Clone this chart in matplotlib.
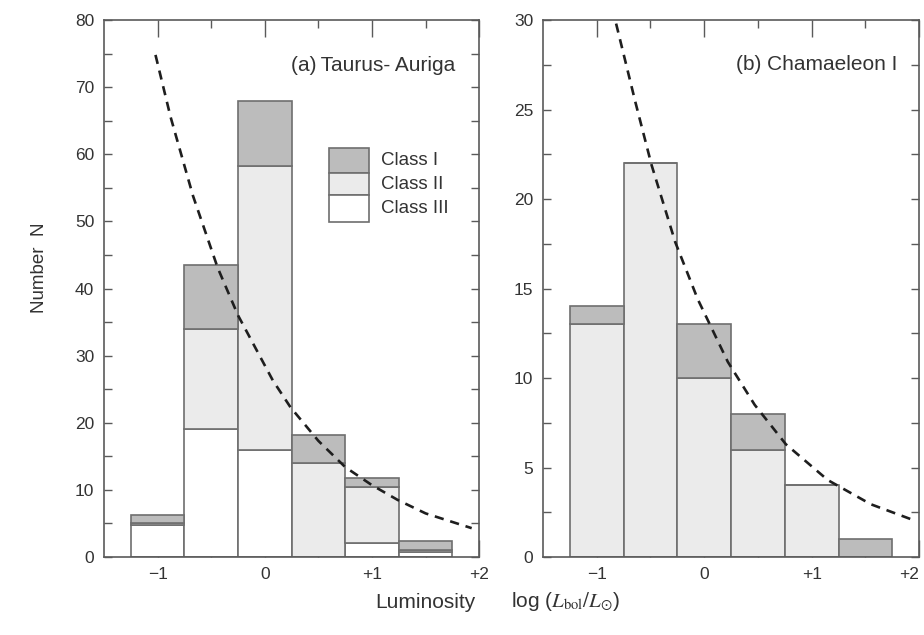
import matplotlib
matplotlib.use('Agg')
import matplotlib.pyplot as plt
from matplotlib.ticker import MultipleLocator, FixedLocator
from matplotlib.patches import Rectangle

plt.rcParams['font.family'] = ['Liberation Sans', 'DejaVu Sans']
plt.rcParams['mathtext.fontset'] = 'stix'

# bin centres, log(Lbol/Lsun), width 0.5
centers = [-1.0, -0.5, 0.0, 0.5, 1.0, 1.5]
xtick_labels = ['\u22121', '0', '+1', '+2']

# (a) Taurus-Auriga, stacked counts
taurus_III = [4.7, 19.0, 16.0, 0.0, 2.1, 0.8]
taurus_II = [0.4, 15.0, 42.3, 14.0, 8.4, 0.3]
taurus_I = [1.2, 9.5, 9.7, 4.2, 1.3, 1.3]

# (b) Chamaeleon I
cham_III = [0, 0, 0, 0, 0, 0]
cham_II = [13, 22, 10, 6, 4, 0]
cham_I = [1, 0, 3, 2, 0, 1]

# dashed reference curves
taurus_curve_x = [-1.02, -0.88, -0.67, -0.44, -0.25, 0.075, 0.24, 0.50, 0.75, 1.0, 1.24, 1.50, 1.93]
taurus_curve_y = [74.8, 65.6, 53.8, 43.1, 36.0, 26.3, 22.3, 17.3, 13.4, 10.7, 8.5, 6.5, 4.3]
cham_curve_x = [-0.82, -0.64, -0.49, -0.27, -0.06, 0.22, 0.47, 0.76, 1.15, 1.55, 1.93]
cham_curve_y = [29.8, 25.4, 21.9, 17.6, 14.4, 10.9, 8.5, 6.3, 4.3, 2.95, 2.1]

EDGE = '#5a5a5a'
BAR_EDGE = '#6e6e6e'
TXT = '#333333'
C_I = '#bcbcbc'
C_II = '#ebebeb'
C_III = '#ffffff'


def style_axes(ax, ymax, ymajor, yminor):
    ax.set_xlim(-1.5, 2.0)
    ax.set_ylim(0, ymax)
    ax.xaxis.set_major_locator(FixedLocator([-1, 0, 1, 2]))
    ax.xaxis.set_minor_locator(FixedLocator([-0.5, 0.5, 1.5]))
    ax.set_xticklabels(xtick_labels)
    ax.yaxis.set_major_locator(MultipleLocator(ymajor))
    ax.yaxis.set_minor_locator(MultipleLocator(yminor))
    ax.tick_params(which='both', direction='in', top=True, right=True,
                   color=EDGE, width=1, labelsize=12.5, labelcolor=TXT)
    ax.tick_params(axis='x', which='major', length=12, pad=7)
    ax.tick_params(axis='x', which='minor', length=6)
    ax.tick_params(axis='y', which='both', length=5.5, pad=7)
    for s in ax.spines.values():
        s.set_color(EDGE)
        s.set_linewidth(1.2)


def stacked(ax, c3, c2, c1):
    bot2 = c3
    bot1 = [a + b for a, b in zip(c3, c2)]
    kw = dict(width=0.5, align='center', edgecolor=BAR_EDGE, linewidth=1.2, zorder=2)
    ax.bar(centers, c3, color=C_III, **kw)
    ax.bar(centers, c2, bottom=bot2, color=C_II, **kw)
    ax.bar(centers, c1, bottom=bot1, color=C_I, **kw)


fig = plt.figure(figsize=(9.24, 6.35), dpi=100)
ax_a = fig.add_axes([0.1126, 0.1228, 0.406, 0.8457])
ax_b = fig.add_axes([0.5877, 0.1228, 0.407, 0.8457])

stacked(ax_a, taurus_III, taurus_II, taurus_I)
stacked(ax_b, cham_III, cham_II, cham_I)

for ax, cx, cy in [(ax_a, taurus_curve_x, taurus_curve_y), (ax_b, cham_curve_x, cham_curve_y)]:
    ax.plot(cx, cy, color='#1e1e1e', lw=1.9, dashes=(3.5, 2.6), zorder=3)

style_axes(ax_a, 80, 10, 5)
style_axes(ax_b, 30, 5, 2.5)

# last label of right panel sits at the page edge
ax_b.get_xticklabels()[-1].set_horizontalalignment('right')

ax_a.text(0.936, 0.916, '(a)\u2009Taurus- Auriga', transform=ax_a.transAxes,
          ha='right', va='center', fontsize=15, color=TXT)
ax_b.text(0.941, 0.918, '(b) Chamaeleon I', transform=ax_b.transAxes,
          ha='right', va='center', fontsize=15, color=TXT)

# legend boxes, stacked and touching
leg_x0, leg_w = 0.600, 0.107
leg_edges = [0.7616, 0.7151, 0.674, 0.6238]
leg_cols = [C_I, C_II, C_III]
leg_labels = ['Class I', 'Class II', 'Class III']
for i in range(3):
    y_top, y_bot = leg_edges[i], leg_edges[i + 1]
    ax_a.add_patch(Rectangle((leg_x0, y_bot), leg_w, y_top - y_bot, transform=ax_a.transAxes,
                             facecolor=leg_cols[i], edgecolor=BAR_EDGE, linewidth=1.2, zorder=4))
    ax_a.text(0.739, (y_top + y_bot) / 2, leg_labels[i], transform=ax_a.transAxes,
              ha='left', va='center', fontsize=13.5, color=TXT)

fig.text(40 / 924, 1 - 268 / 635, 'Number  N', rotation=90, ha='center', va='center',
         fontsize=13.5, color=TXT)
fig.text(375 / 924, 1 - 602 / 635, 'Luminosity', ha='left', va='center',
         fontsize=15, color=TXT)
fig.text(511 / 924, 1 - 602 / 635, r'log ($L_{\mathrm{bol}}/L_{\odot}$)', ha='left', va='center',
         fontsize=15, color=TXT)

fig.savefig('out.png', dpi=100, facecolor='white')
